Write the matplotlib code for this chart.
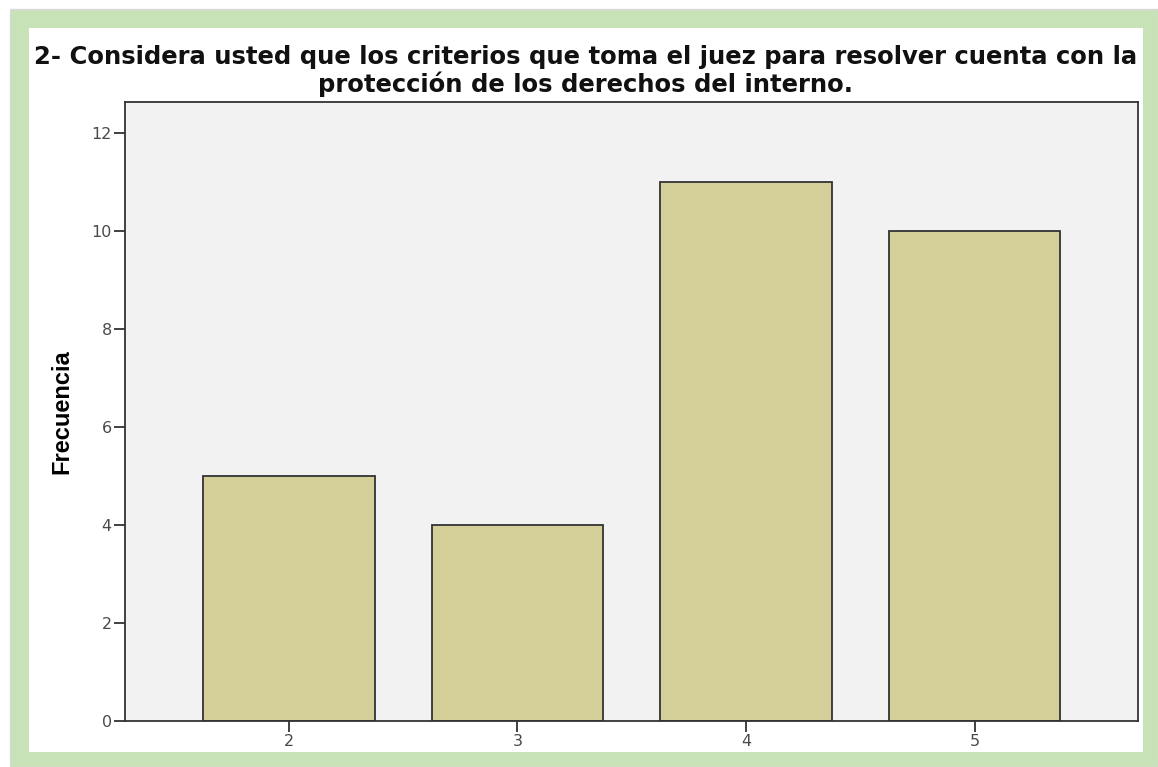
import matplotlib.pyplot as plt
from matplotlib.patches import Rectangle

plt.rcParams['font.family'] = ['Liberation Sans', 'DejaVu Sans']

categorias = [2, 3, 4, 5]
frecuencia = [5, 4, 11, 10]
yticks = [0, 2, 4, 6, 8, 10, 12]

fig = plt.figure(figsize=(11.58, 7.67), dpi=100)
W, H = 1158, 767

# green frame with white interior
fig.patches.append(Rectangle((10 / W, 0), 1148 / W, 1 - 9 / H, transform=fig.transFigure,
                             facecolor='#c8e2b8', edgecolor='#d8d8d8', lw=1, zorder=-2))
fig.patches.append(Rectangle((29 / W, (H - 752) / H), (1143 - 29) / W, (752 - 28) / H,
                             transform=fig.transFigure, facecolor='white', edgecolor='none', zorder=-1))

ax = fig.add_axes([125 / W, (H - 721) / H, (1138 - 125) / W, (721 - 102) / H], zorder=2)
ax.set_facecolor('#f2f2f2')
ax.bar(categorias, frecuencia, width=0.75, color='#d5d09a', edgecolor='#333333', linewidth=1.3)
ax.set_xlim(1.283, 5.715)
ax.set_ylim(0, 12.63)
ax.set_xticks(categorias)
ax.set_yticks(yticks)
ax.tick_params(colors='#333333', length=8, width=1.3, direction='out', pad=1.5)
ax.tick_params(axis='both', labelcolor='#4a4a4a')
for lab in ax.get_xticklabels() + ax.get_yticklabels():
    lab.set_family('DejaVu Sans')
    lab.set_fontsize(11.5)
for s in ax.spines.values():
    s.set_color('#333333')
    s.set_linewidth(1.3)
ax.set_ylabel('Frecuencia', fontsize=17, fontweight='bold', va='center')
ax.yaxis.set_label_coords((62 - 125) / 1013, (721 - 412) / 619)

title_font = dict(ha='center', va='center', fontsize=17.5, fontweight='bold',
                  color='#111111', family='DejaVu Sans')
fig.text(586 / W, 1 - 57 / H,
         '2- Considera usted que los criterios que toma el juez para resolver cuenta con la',
         **title_font)
fig.text(586 / W, 1 - 84 / H, 'protección de los derechos del interno.', **title_font)

fig.savefig('out.png', dpi=100)
